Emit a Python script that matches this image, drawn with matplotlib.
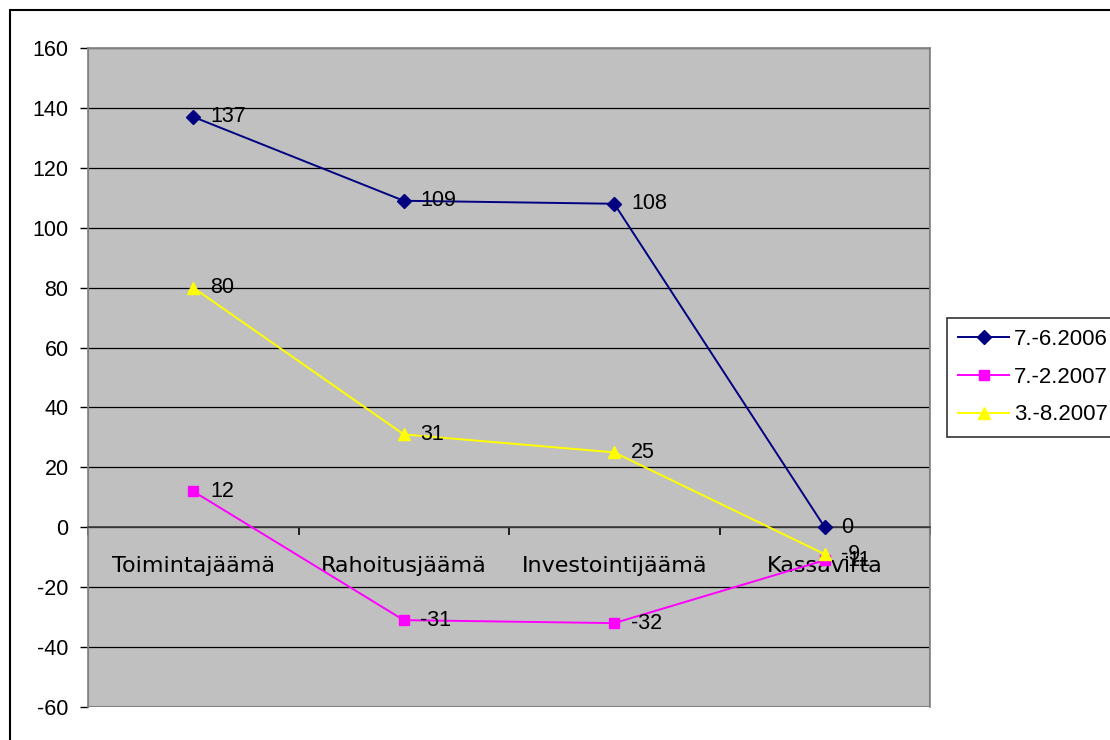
import matplotlib.pyplot as plt
from matplotlib.patches import Rectangle

plt.rcParams['axes.unicode_minus'] = False

kategoriat = ['Toimintajäämä', 'Rahoitusjäämä', 'Investointijäämä', 'Kassavirta']
kausi_2006 = [137, 109, 108, 0]
kausi_2007a = [12, -31, -32, -11]
kausi_2007b = [80, 31, 25, -9]
sarjat = ['7.-6.2006', '7.-2.2007', '3.-8.2007']

fig = plt.figure(figsize=(11.1, 7.4), dpi=100)
fig.patch.set_facecolor('white')
# kehys koko kaavion ympärille
fig.add_artist(Rectangle((10 / 1110, -0.1), 1.2, (730 / 740) + 0.1,
                         transform=fig.transFigure, fill=False,
                         edgecolor='black', linewidth=1.5))

ax = fig.add_axes([88 / 1110, 33 / 740, 842 / 1110, 659 / 740])
ax.set_facecolor('#C0C0C0')
x = range(len(kategoriat))

l1, = ax.plot(x, kausi_2006, color='#000080', marker='D', markersize=7.5,
              linewidth=1.4, zorder=5)
l2, = ax.plot(x, kausi_2007a, color='#FF00FF', marker='s', markersize=7,
              linewidth=1.4, zorder=5)
l3, = ax.plot(x, kausi_2007b, color='#FFFF00', marker='^', markersize=9,
              linewidth=1.4, zorder=5)

for arvot in (kausi_2006, kausi_2007a, kausi_2007b):
    for i, v in enumerate(arvot):
        ax.annotate(str(v), (i, v), xytext=(12, 0), textcoords='offset points',
                    va='center', ha='left', fontsize=15.5,
                    fontfamily='Liberation Sans', zorder=6)

ax.set_xlim(-0.5, 3.5)
ax.set_ylim(-60, 160)
ax.set_yticks(range(-60, 161, 20))
ax.yaxis.grid(True, color='black', linewidth=0.9)
ax.set_axisbelow(True)
for t in ax.get_yticklabels():
    t.set_fontfamily('Liberation Sans')
ax.tick_params(axis='y', labelsize=15.5, length=6, width=1, color='black', pad=8)

# luokka-akseli nollan kohdalla
ax.spines['bottom'].set_position(('data', 0))
ax.spines['bottom'].set_color('#404040')
ax.spines['bottom'].set_linewidth(1.2)
ax.set_xticks([-0.5, 0.5, 1.5, 2.5, 3.5])
ax.set_xticklabels([])
ax.set_xticks(list(x), minor=True)
ax.set_xticklabels(kategoriat, minor=True, fontsize=16, fontfamily='DejaVu Sans')
ax.tick_params(axis='x', which='major', direction='out', length=6,
               width=1.2, color='black')
ax.tick_params(axis='x', which='minor', length=0, pad=21)

for s in ('left', 'top', 'right'):
    ax.spines[s].set_color('#808080')
    ax.spines[s].set_linewidth(1.2)
ax.add_patch(Rectangle((0, 0), 1, 1, transform=ax.transAxes, fill=False,
                       edgecolor='#808080', linewidth=1.5, zorder=1))

leg = fig.legend([l1, l2, l3], sarjat, loc='upper left',
                 bbox_to_anchor=(947 / 1110, 1 - 318 / 740),
                 frameon=True, fancybox=False, edgecolor='black',
                 prop={'family': 'Liberation Sans', 'size': 16},
                 handlelength=2.3, handletextpad=0.2, borderpad=0.5,
                 labelspacing=0.75, borderaxespad=0)
leg.get_frame().set_linewidth(1.2)

fig.savefig('out.png', dpi=100)
